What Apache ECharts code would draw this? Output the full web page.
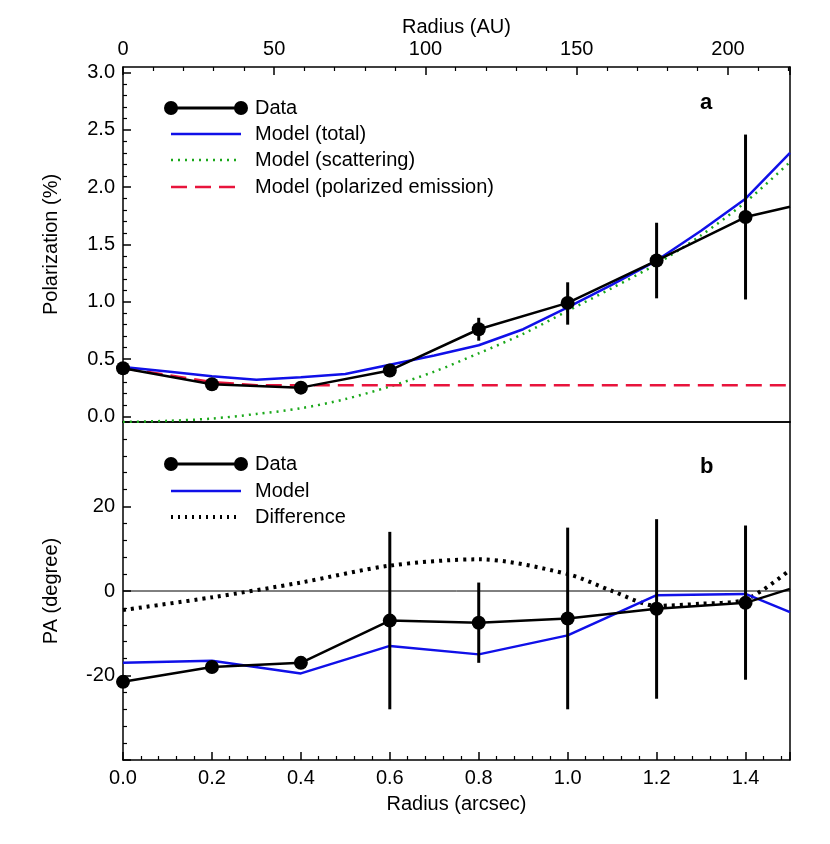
<!DOCTYPE html>
<html>
<head>
<meta charset="utf-8">
<title>Polarization profile</title>
<script src="https://cdn.jsdelivr.net/npm/echarts@6/dist/echarts.min.js"></script>
<style>html,body{margin:0;background:#fff}#chart{width:830px;height:844px}</style>
</head>
<body>
<div id="chart"></div>
<script>
// radius grid (arcsec)
var dataX = [0, 0.2, 0.4, 0.6, 0.8, 1.0, 1.2, 1.4, 1.5];
var modelX = [0,0.1,0.2,0.3,0.4,0.5,0.6,0.7,0.8,0.9,1.0,1.1,1.2,1.3,1.4,1.5];

// panel a
var polData = [0.42, 0.28, 0.25, 0.40, 0.76, 0.99, 1.36, 1.74, 1.83];
var polErrLow = [0.38, null, null, 0.35, 0.66, 0.80, 1.03, 1.02];
var polErrHigh = [0.46, null, null, 0.45, 0.86, 1.17, 1.69, 2.46];
var polTotal = [0.43,0.39,0.35,0.32,0.34,0.37,0.45,0.53,0.62,0.76,0.95,1.15,1.36,1.62,1.90,2.30];
var polScat = [-0.05,-0.04,-0.02,0.02,0.07,0.15,0.26,0.39,0.55,0.72,0.92,1.12,1.33,1.58,1.87,2.22];
var polEmis = [0.42,0.36,0.30,0.27,0.27,0.27,0.27,0.27,0.27,0.27,0.27,0.27,0.27,0.27,0.27,0.27];

// panel b
var paData = [-21.5, -18, -17, -7, -7.5, -6.5, -4.2, -2.8, 0.5];
var paErrLow = [null, null, null, -28, -17, -28, -25.5, -21];
var paErrHigh = [null, null, null, 14, 2, 15, 17, 15.5];
var paModelX = [0, 0.2, 0.4, 0.6, 0.8, 1.0, 1.2, 1.4, 1.5];
var paModel = [-17, -16.5, -19.5, -13, -15, -10.5, -1, -0.7, -5];
var paDiffX = [0, 0.2, 0.4, 0.6, 0.8, 1.0, 1.1, 1.2, 1.3, 1.4, 1.5];
var paDiff = [-4.5, -1.5, 2, 6, 7.5, 4, 0, -3.5, -3, -2, 5];

var AU_PER_ARCSEC = 147;
var font = 'Liberation Sans, Arial, sans-serif';

function pairs(xs, ys) { return xs.map(function (x, i) { return [x, ys[i]]; }); }
function errs(lo, hi) {
  var out = [];
  lo.forEach(function (l, i) { if (l != null) out.push([dataX[i], l, hi[i]]); });
  return out;
}
function errSeries(lo, hi, xi, yi) {
  return {
    type: 'custom', xAxisIndex: xi, yAxisIndex: yi, data: errs(lo, hi), z: 5,
    renderItem: function (p, api) {
      var a = api.coord([api.value(0), api.value(1)]);
      var b = api.coord([api.value(0), api.value(2)]);
      return { type: 'line', shape: { x1: a[0], y1: a[1], x2: b[0], y2: b[1] },
               style: { stroke: '#000', lineWidth: 3 } };
    }
  };
}
var axisLine = { show: true, onZero: false, lineStyle: { color: '#000', width: 1.5 } };
var tick = { inside: true, length: 8, lineStyle: { color: '#000', width: 1.5 } };
var minor = { show: true, length: 4, lineStyle: { color: '#000', width: 1.2 } };
var lbl = { color: '#000', fontSize: 20, fontFamily: font };

function legendItem(x, y, kind, color, text) {
  var els = [];
  if (kind === 'data') {
    els.push({ type: 'line', shape: { x1: 0, y1: 0, x2: 70, y2: 0 }, style: { stroke: '#000', lineWidth: 3 } });
    els.push({ type: 'circle', shape: { cx: 0, cy: 0, r: 7 }, style: { fill: '#000' } });
    els.push({ type: 'circle', shape: { cx: 70, cy: 0, r: 7 }, style: { fill: '#000' } });
  } else {
    var dash = kind === 'dot' ? [2, 5] : kind === 'dash' ? [16, 8] : null;
    els.push({ type: 'line', shape: { x1: 0, y1: 0, x2: 70, y2: 0 },
               style: { stroke: color, lineWidth: kind === 'dot' && color === '#000' ? 4 : 2.5, lineDash: dash } });
  }
  els.push({ type: 'text', x: 84, y: 0, style: { text: text, fill: '#000', fontSize: 20, fontFamily: font, verticalAlign: 'middle' } });
  return { type: 'group', x: x, y: y, children: els };
}
var plain = { axisLine: axisLine, axisTick: { show: false }, axisLabel: { show: false }, splitLine: { show: false } };

var chart = echarts.init(document.getElementById('chart'));
chart.setOption({
  animation: false,
  grid: [
    { left: 123, right: 40, top: 67, height: 355 },
    { left: 123, right: 40, top: 422, height: 338 }
  ],
  xAxis: [
    Object.assign({ gridIndex: 0, type: 'value', min: 0, max: 1.5 }, plain),
    { gridIndex: 0, type: 'value', position: 'top', min: 0, max: 1.5 * AU_PER_ARCSEC, interval: 50,
      name: 'Radius (AU)', nameLocation: 'middle', nameGap: 30, nameTextStyle: lbl,
      axisLine: axisLine, axisTick: tick, minorTick: minor, axisLabel: Object.assign({ showMaxLabel: false }, lbl),
      splitLine: { show: false } },
    { gridIndex: 1, type: 'value', min: 0, max: 1.5, interval: 0.2,
      name: 'Radius (arcsec)', nameLocation: 'middle', nameGap: 34, nameTextStyle: lbl,
      axisLine: axisLine, axisTick: tick, minorTick: minor,
      axisLabel: Object.assign({ showMaxLabel: false, formatter: function (v) { return v.toFixed(1); } }, lbl),
      splitLine: { show: false } },
    Object.assign({ gridIndex: 1, type: 'value', position: 'top', min: 0, max: 1.5 }, plain)
  ],
  yAxis: [
    { gridIndex: 0, type: 'value', min: -0.05, max: 3.05,
      name: 'Polarization (%)', nameLocation: 'middle', nameGap: 62, nameTextStyle: lbl,
      axisLine: axisLine, minorTick: minor,
      axisLabel: Object.assign({ formatter: function (v) { return v.toFixed(1); },
        customValues: [0, 0.5, 1, 1.5, 2, 2.5, 3] }, lbl),
      axisTick: Object.assign({ customValues: [0, 0.5, 1, 1.5, 2, 2.5, 3] }, tick),
      splitLine: { show: false } },
    Object.assign({ gridIndex: 0, type: 'value', position: 'right', min: -0.05, max: 3.05 }, plain),
    { gridIndex: 1, type: 'value', min: -40, max: 40, interval: 20,
      name: 'PA (degree)', nameLocation: 'middle', nameGap: 62, nameTextStyle: lbl,
      axisLine: axisLine, axisTick: tick, minorTick: minor,
      axisLabel: Object.assign({ showMinLabel: false, showMaxLabel: false }, lbl),
      splitLine: { show: false } },
    Object.assign({ gridIndex: 1, type: 'value', position: 'right', min: -40, max: 40 }, plain)
  ],
  series: [
    { type: 'line', xAxisIndex: 0, yAxisIndex: 0, data: pairs(modelX, polScat), showSymbol: false, smooth: 0.3,
      lineStyle: { color: '#1aa81a', width: 2.5, type: [2, 5] } },
    { type: 'line', xAxisIndex: 0, yAxisIndex: 0, data: pairs(modelX, polEmis), showSymbol: false,
      lineStyle: { color: '#e8143c', width: 2.5, type: [16, 8] } },
    { type: 'line', xAxisIndex: 0, yAxisIndex: 0, data: pairs(modelX, polTotal), showSymbol: false,
      lineStyle: { color: '#1010e8', width: 2.5 } },
    errSeries(polErrLow, polErrHigh, 0, 0),
    { type: 'line', xAxisIndex: 0, yAxisIndex: 0, data: pairs(dataX, polData), z: 6,
      symbol: 'circle', itemStyle: { color: '#000' }, lineStyle: { color: '#000', width: 2.5 },
      symbolSize: function (v) { return v[0] > 1.45 ? 0 : 14; } },
    { type: 'line', xAxisIndex: 2, yAxisIndex: 2, data: [[0, 0], [1.5, 0]], showSymbol: false,
      lineStyle: { color: '#000', width: 1 } },
    { type: 'line', xAxisIndex: 2, yAxisIndex: 2, data: pairs(paDiffX, paDiff), showSymbol: false, smooth: 0.3,
      lineStyle: { color: '#000', width: 4, type: [3, 5] } },
    { type: 'line', xAxisIndex: 2, yAxisIndex: 2, data: pairs(paModelX, paModel), showSymbol: false,
      lineStyle: { color: '#1010e8', width: 2.5 } },
    errSeries(paErrLow, paErrHigh, 2, 2),
    { type: 'line', xAxisIndex: 2, yAxisIndex: 2, data: pairs(dataX, paData), z: 6,
      symbol: 'circle', itemStyle: { color: '#000' }, lineStyle: { color: '#000', width: 2.5 },
      symbolSize: function (v) { return v[0] > 1.45 ? 0 : 14; } }
  ],
  graphic: [
    legendItem(171, 108, 'data', '#000', 'Data'),
    legendItem(171, 134, 'line', '#1010e8', 'Model (total)'),
    legendItem(171, 160, 'dot', '#1aa81a', 'Model (scattering)'),
    legendItem(171, 187, 'dash', '#e8143c', 'Model (polarized emission)'),
    { type: 'text', x: 700, y: 92, style: { text: 'a', fontSize: 22, fontWeight: 'bold', fill: '#000', fontFamily: font } },
    legendItem(171, 464, 'data', '#000', 'Data'),
    legendItem(171, 491, 'line', '#1010e8', 'Model'),
    legendItem(171, 517, 'dot', '#000', 'Difference'),
    { type: 'text', x: 700, y: 456, style: { text: 'b', fontSize: 22, fontWeight: 'bold', fill: '#000', fontFamily: font } }
  ]
});
</script>
</body>
</html>
